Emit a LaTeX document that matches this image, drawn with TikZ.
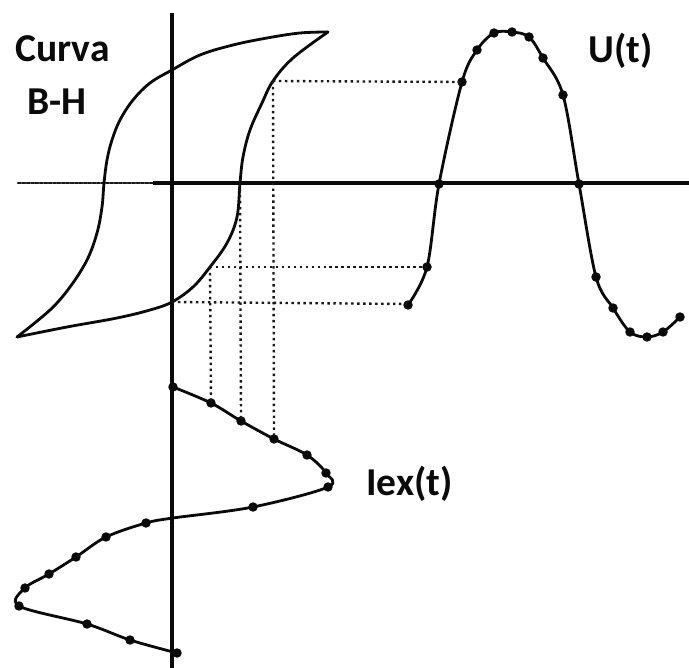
\documentclass[tikz,border=0pt]{standalone}
\usepackage{fontspec}
\setmainfont{Carlito}
\usetikzlibrary{calc}
\definecolor{LoopInk}{gray}{0.04}
\definecolor{LoopGuide}{gray}{0.1}
\tikzset{
    bh/diagram/.style={
        x=0.02cm, y=-0.02cm,
        line cap=round, line join=round,
        font=\fontsize{22.5}{26}\selectfont\bfseries
    },
    bh/axis/.style={draw=LoopInk, line width=1.9pt, line cap=butt},
    bh/axisfaint/.style={draw=LoopGuide, line width=1.6pt, dash pattern=on 1.6pt off 0.9pt},
    bh/curve/.style={draw=LoopInk, line width=1.6pt},
    bh/projection/.style={draw=LoopGuide, line width=1.35pt, line cap=butt,
        dash pattern=on 1.4pt off 2pt},
    bh/sample/.style={circle, fill=LoopInk, draw=none, inner sep=0pt, minimum size=5.4pt},
    bh/label/.style={inner sep=0pt, anchor=base west, text=LoopInk}
}

\begin{document}
\begin{tikzpicture}[bh/diagram]
    \useasboundingbox (0,0) rectangle (689,668);
    % axes
    \draw[bh/axisfaint] (18,183) -- (153,183);
    \draw[bh/axis] (153,183) -- (689,183);
    \draw[bh/axis] (172,13) -- (172,668);
    % hysteresis loop
    \draw[bh/curve] plot[smooth, tension=0.6] coordinates {
        (328,32) (300,33) (267,38) (233,45) (200,55) (172,70) (150,83)
        (133,100) (120,120) (112,140) (107,160) (104,183) (102,207)
        (97,233) (87,260) (70,287) (50,310) (17,337)};
    \draw[bh/curve] plot[smooth, tension=0.6] coordinates {
        (17,337) (67,327) (117,318) (150,310) (172,302) (193,287) (210,267)
        (227,243) (237,217) (240,183) (243,157) (250,130) (262,103)
        (273,81) (293,58) (328,32)};
    % voltage U(t)
    \draw[bh/curve] plot[smooth, tension=0.55] coordinates {
        (408,305) (427,267) (439,184) (462,82) (477,50) (494,33) (512,32)
        (529,37) (543,58) (563,95) (579,184) (596,277) (613,308) (630,332)
        (647,337) (663,332) (680,317)};
    \foreach \p in {(408,305),(427,267),(439,184),(462,82),(477,50),(494,33),
                    (512,32),(529,37),(543,58),(563,95),(579,184),(596,277),
                    (613,308),(630,332),(647,337),(663,332),(680,317)}
        \node[bh/sample] at \p {};
    % current Iex(t)
    \draw[bh/curve] plot[smooth, tension=0.55] coordinates {
        (173,387) (211,403) (241,421) (274,439) (307,455) (326,473) (328,487)
        (253,507) (173,518) (146,523) (106,537) (76,557) (49,574) (25,588)
        (19,606) (87,624) (130,640) (177,653)};
    \foreach \p in {(173,387),(211,403),(241,421),(274,439),(307,455),(326,473),
                    (328,487),(253,507),(146,523),(106,537),(76,557),(49,574),
                    (25,588),(19,606),(87,624),(130,640),(177,653)}
        \node[bh/sample] at \p {};
    % projections
    \coordinate (Hsat) at (273,81);
    \coordinate (Hmid) at (210,267);
    \coordinate (Hrem) at (172,302);
    \coordinate (Hcoe) at (240,183);
    \coordinate (Usat) at (462,82);
    \coordinate (Umid) at (427,267);
    \coordinate (Ustart) at (408,304);
    \coordinate (Isat) at (274,439);
    \coordinate (Imid) at (211,403);
    \coordinate (Icoe) at (241,421);
    \draw[bh/projection] (Hsat) -- (Usat);
    \draw[bh/projection] (Hmid) -- (Umid);
    \draw[bh/projection] (Hrem) -- (Ustart);
    \draw[bh/projection] (Hsat) -- (Isat);
    \draw[bh/projection] (Hmid) -- (Imid);
    \draw[bh/projection] (Hcoe) -- (Icoe);
    % labels
    \node[bh/label] (curva) at (15,62) {Curva};
    \node[bh/label] (bhname) at (27,115) {B-H};
    \node[bh/label] (volt) at (588,63) {U(t)};
    \node[bh/label] (curr) at (366,495) {Iex(t)};
\end{tikzpicture}
\end{document}
